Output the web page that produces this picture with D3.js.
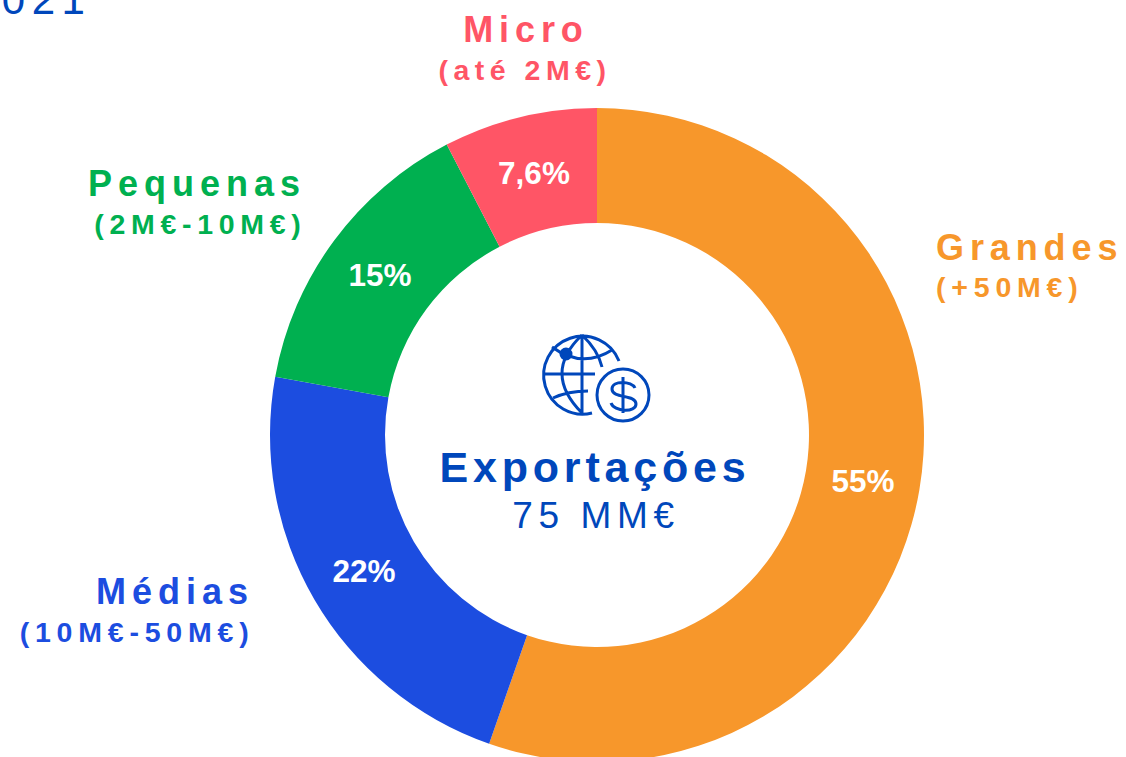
<!DOCTYPE html>
<html><head><meta charset="utf-8"><script src="https://cdn.jsdelivr.net/npm/d3@7"></script>
<style>html,body{margin:0;background:#fff}svg{display:block}text{font-family:"Liberation Sans",Arial,sans-serif}</style></head>
<body><svg id="c" width="1126" height="757"></svg>
<script>
const categories=["Grandes","Médias","Pequenas","Micro"];
const subLabels=["(+50M€)","(10M€-50M€)","(2M€-10M€)","(até 2M€)"];
const values=[55.35,22.5,14.55,7.6];
const valueLabels=["55%","22%","15%","7,6%"];
const colors=["#F7972B","#1C4DE0","#00B050","#FF5566"];
const svg=d3.select("#c");
const cx=597,cy=435;
const g=svg.append("g").attr("transform",`translate(${cx},${cy})`);
const pie=d3.pie().sort(null).value(d=>d)(values);
const arc=d3.arc().innerRadius(212).outerRadius(327);
g.selectAll("path").data(pie).join("path").attr("d",arc).attr("fill",(d,i)=>colors[i]);
const lp=[[266,47],[-233,137],[-217,-159],[-63,-261]];
g.selectAll("text.v").data(pie).join("text").attr("class","v").attr("x",(d,i)=>lp[i][0]).attr("y",(d,i)=>lp[i][1]+10)
 .attr("text-anchor","middle").attr("fill","#fff").attr("font-weight",700).attr("font-size",31.5).text((d,i)=>valueLabels[i]);
const cat=[
 {x:936,y:260,sx:936,a:"start",s:36,ls:5.9,sy:297,ss:28.5,sl:5.8},
 {x:254,y:604,sx:254.5,a:"end",s:36,ls:6,sy:642,ss:28.5,sl:5.8},
 {x:306,y:195.5,sx:306.5,a:"end",s:36,ls:6,sy:234,ss:28.5,sl:5.7},
 {x:526,y:42,sx:525,a:"middle",s:36,ls:5.9,sy:80,ss:28.5,sl:5.5}];
cat.forEach((c,i)=>{
 svg.append("text").attr("x",c.x).attr("y",c.y).attr("text-anchor",c.a).attr("fill",colors[i]).attr("font-weight",700).attr("font-size",c.s).attr("letter-spacing",c.ls).text(categories[i]);
 svg.append("text").attr("x",c.sx).attr("y",c.sy).attr("text-anchor",c.a).attr("fill",colors[i]).attr("font-weight",700).attr("font-size",c.ss).attr("letter-spacing",c.sl).text(subLabels[i]);
});
const blue="#0047BB";
svg.append("text").attr("x",595).attr("y",482).attr("text-anchor","middle").attr("fill",blue).attr("font-weight",700).attr("font-size",43).attr("letter-spacing",4.8).text("Exportações");
svg.append("text").attr("x",596).attr("y",528).attr("text-anchor","middle").attr("fill",blue).attr("font-size",37).attr("letter-spacing",5.6).text("75 MM€");
svg.append("text").attr("x",-28).attr("y",14).attr("fill",blue).attr("font-size",42).attr("letter-spacing",6.5).text("2021");
const ic=svg.append("g").attr("fill","none").attr("stroke",blue).attr("stroke-width",3);
ic.append("path").attr("d","M619 361 A39 39 0 1 0 592 413");
ic.append("path").attr("d","M582 335V413M545 374H595M552 347Q582 369 612 350M553 398Q568 391 588 391M582 335Q542 373 582 413M582 335Q598 350 602 367");
ic.append("circle").attr("cx",623).attr("cy",395).attr("r",26);
ic.append("circle").attr("cx",566).attr("cy",354).attr("r",5).attr("fill",blue);
ic.append("path").attr("d","M623 377V413M635 388C632 381 612 380 612 389C612 399 636 394 636 404C636 413 614 412 611 403");
</script></body></html>
